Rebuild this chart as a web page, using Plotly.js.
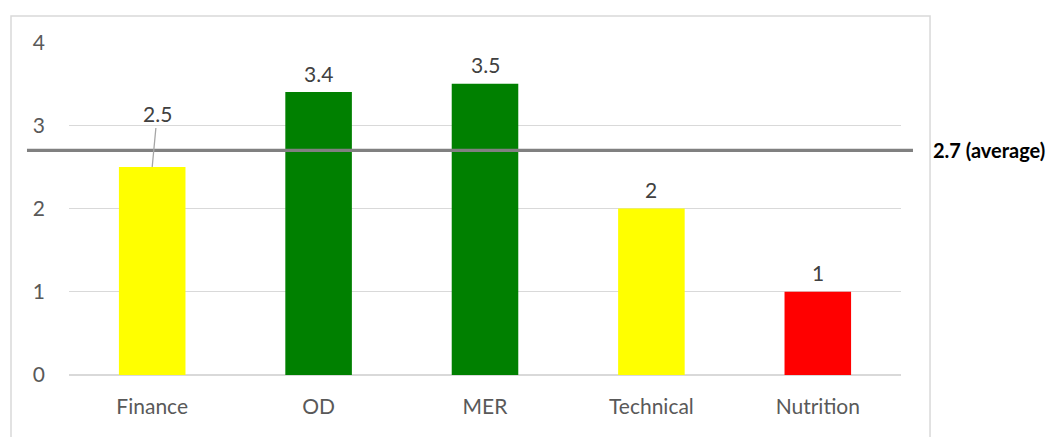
<!DOCTYPE html>
<html>
<head>
<meta charset="utf-8">
<script src="https://cdn.plot.ly/plotly-3.0.1.min.js"></script>
<style>
  html, body { margin: 0; padding: 0; background: #ffffff; }
  #chart { width: 1052px; height: 437px; }
</style>
</head>
<body>
<div id="chart"></div>
<script>
// Scores per unit
const categories = ['Finance', 'OD', 'MER', 'Technical', 'Nutrition'];
const scores = [2.5, 3.4, 3.5, 2, 1];
const barColors = ['#ffff00', '#008000', '#008000', '#ffff00', '#ff0000'];
const averageValue = 2.7;
const averageLabel = '2.7 (average)';
const yTicks = [0, 1, 2, 3, 4];

const FONT = 'Lato, Carlito, "Open Sans", sans-serif';

const trace = {
  type: 'bar',
  x: categories,
  y: scores,
  marker: { color: barColors, line: { width: 0 } },
  hoverinfo: 'x+y'
};

// Value labels above each bar; Finance's label sits higher with a leader line
const valueLabels = categories.map((c, i) => {
  if (c === 'Finance') {
    return {
      x: c, y: scores[i], xref: 'x', yref: 'y',
      text: String(scores[i]),
      showarrow: true, arrowhead: 0, arrowwidth: 1.3, arrowcolor: '#a6a6a6',
      ax: 5, ay: -53, standoff: 0,
      font: { family: FONT, size: 21, color: '#404040' }
    };
  }
  return {
    x: c, y: scores[i], xref: 'x', yref: 'y',
    text: String(scores[i]),
    showarrow: false, yanchor: 'middle', yshift: 19,
    font: { family: FONT, size: 21, color: '#404040' }
  };
});

const avgAnnotation = {
  x: 1.036, y: averageValue, xref: 'paper', yref: 'y',
  xanchor: 'left', yanchor: 'middle', showarrow: false,
  text: '<b>' + averageLabel + '</b>',
  font: { family: FONT, size: 20, color: '#000000' }
};

const layout = {
  width: 1052, height: 437,
  margin: { l: 69, r: 151, t: 42, b: 62, pad: 0 },
  paper_bgcolor: '#ffffff', plot_bgcolor: '#ffffff',
  showlegend: false,
  bargap: 0.6,
  xaxis: {
    type: 'category',
    showgrid: false, zeroline: false,
    showline: false,
    ticks: '', ticklabelstandoff: 17,
    tickfont: { family: FONT, size: 21, color: '#595959' }
  },
  yaxis: {
    range: [0, 4.002],
    tickvals: yTicks,
    showgrid: true, gridcolor: '#d9d9d9', gridwidth: 1.3,
    zeroline: true, zerolinecolor: '#d9d9d9', zerolinewidth: 2,
    showline: false, ticks: '', ticklabelstandoff: 23,
    tickfont: { family: FONT, size: 21, color: '#595959' }
  },
  shapes: [
    // outer chart frame
    {
      type: 'rect', xref: 'paper', yref: 'paper', layer: 'below',
      x0: -0.0697, x1: 1.0349, y0: -0.2, y1: 1.078,
      line: { color: '#d9d9d9', width: 1.5 }, fillcolor: 'rgba(0,0,0,0)'
    },
    // average reference line
    {
      type: 'line', xref: 'paper', yref: 'y', layer: 'above',
      x0: -0.0505, x1: 1.0144, y0: averageValue, y1: averageValue,
      line: { color: '#808080', width: 3.3 }
    }
  ],
  annotations: valueLabels.concat([avgAnnotation])
};

Plotly.newPlot('chart', [trace], layout, { displayModeBar: false, staticPlot: true });
</script>
</body>
</html>
